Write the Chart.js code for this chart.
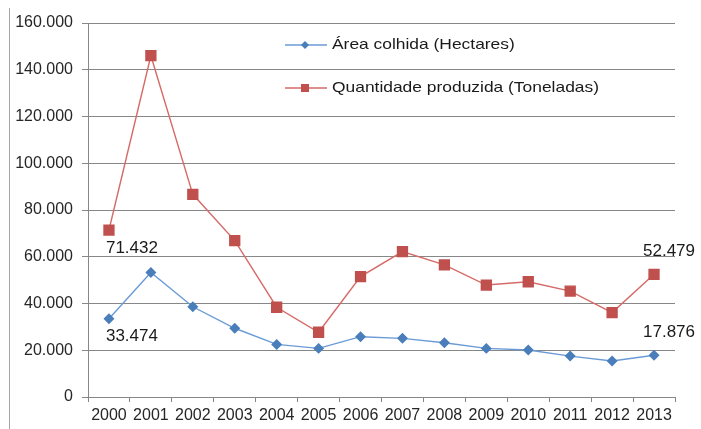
<!DOCTYPE html>
<html lang="pt">
<head>
<meta charset="UTF-8" />
<title>Área colhida e quantidade produzida</title>
<style>
  body { margin: 0; background: #fff; }
</style>
</head>
<body>
<canvas id="myChart" width="701" height="429"></canvas>

<script src="https://cdn.jsdelivr.net/npm/chart.js"></script>
<script>
// dados
const anos = ['2000', '2001', '2002', '2003', '2004', '2005', '2006',
              '2007', '2008', '2009', '2010', '2011', '2012', '2013'];
const areaColhida = [33474, 53300, 38600, 29400, 22500, 20800, 25800,
                     25100, 23200, 20800, 20100, 17500, 15400, 17876];
const qtdProduzida = [71432, 146000, 86700, 66900, 38400, 27700, 51500,
                      62200, 56500, 47900, 49300, 45300, 36100, 52479];
const yTicks = [0, 20000, 40000, 60000, 80000, 100000, 120000, 140000, 160000];

const FONT = '"Liberation Sans", Arial, sans-serif';
const AZUL = '#4a7ebb';
const VERMELHO = '#c0504d';
const GRADE = '#878787';

function fmt(v) {
  return String(v).replace(/\B(?=(\d{3})+(?!\d))/g, '.');
}

// borda esquerda do quadro
const frame = {
  id: 'frame',
  beforeDraw(chart) {
    const ctx = chart.ctx;
    ctx.save();
    ctx.strokeStyle = '#a6a6a6';
    ctx.lineWidth = 1;
    ctx.beginPath();
    ctx.moveTo(9.5, 8);
    ctx.lineTo(9.5, 429);
    ctx.stroke();
    ctx.restore();
  }
};

// legenda desenhada dentro da área do gráfico
const legenda = {
  id: 'legenda',
  afterDraw(chart) {
    const ctx = chart.ctx;
    ctx.save();
    chart.data.datasets.forEach((ds, i) => {
      const y = 45 + i * 43;
      ctx.strokeStyle = ds.borderColor;
      ctx.lineWidth = 1.5;
      ctx.beginPath();
      ctx.moveTo(285, y);
      ctx.lineTo(327, y);
      ctx.stroke();
      ctx.fillStyle = ds.pointBackgroundColor;
      if (i === 0) {
        ctx.beginPath();
        ctx.moveTo(305, y - 4);
        ctx.lineTo(309, y);
        ctx.lineTo(305, y + 4);
        ctx.lineTo(301, y);
        ctx.closePath();
        ctx.fill();
      } else {
        ctx.fillRect(301, y - 4, 8, 8);
      }
      ctx.fillStyle = '#1a1a1a';
      ctx.font = '15px ' + FONT;
      ctx.textBaseline = 'middle';
      ctx.textAlign = 'left';
      ctx.save();
      ctx.translate(332, y);
      ctx.scale(1.16, 1);
      ctx.fillText(ds.label, 0, 0);
      ctx.restore();
    });
    ctx.restore();
  }
};

// rótulos do primeiro e do último ponto
const rotulos = {
  id: 'rotulos',
  afterDatasetsDraw(chart) {
    const ctx = chart.ctx;
    ctx.save();
    ctx.font = '17px ' + FONT;
    ctx.fillStyle = '#1a1a1a';
    ctx.textBaseline = 'middle';
    ctx.textAlign = 'left';
    chart.data.datasets.forEach((ds, i) => {
      const pts = chart.getDatasetMeta(i).data;
      const last = pts.length - 1;
      ctx.fillText(fmt(ds.data[0]), pts[0].x - 3, pts[0].y + 18);
      ctx.fillText(fmt(ds.data[last]), pts[last].x - 11, pts[last].y - 23);
    });
    ctx.restore();
  }
};

const data = {
  labels: anos,
  datasets: [
    {
      label: 'Área colhida (Hectares)',
      data: areaColhida,
      borderColor: '#6a9bd6',
      backgroundColor: AZUL,
      pointBackgroundColor: AZUL,
      pointBorderColor: AZUL,
      pointStyle: 'rectRot',
      pointRadius: 4.5,
      borderWidth: 1.4,
      tension: 0
    },
    {
      label: 'Quantidade produzida (Toneladas)',
      data: qtdProduzida,
      borderColor: '#d56a67',
      backgroundColor: VERMELHO,
      pointBackgroundColor: VERMELHO,
      pointBorderColor: VERMELHO,
      pointStyle: 'rect',
      pointRadius: 7,
      borderWidth: 1.4,
      tension: 0
    }
  ]
};

const config = {
  type: 'line',
  data: data,
  options: {
    responsive: false,
    animation: false,
    layout: { padding: { left: 0, right: 26, top: 23, bottom: 0 } },
    plugins: {
      legend: { display: false },
      tooltip: { enabled: false }
    },
    scales: {
      x: {
        offset: true,
        grid: {
          offset: true,
          drawOnChartArea: false,
          drawTicks: true,
          tickLength: 5,
          color: GRADE
        },
        border: { color: GRADE, width: 1 },
        ticks: {
          color: '#262626',
          font: { family: FONT, size: 16 },
          padding: 4,
          maxRotation: 0,
          autoSkip: false
        },
        afterFit(scale) { scale.height = 32; }
      },
      y: {
        min: 0,
        max: 160000,
        afterBuildTicks(scale) {
          scale.ticks = yTicks.map(v => ({ value: v }));
        },
        grid: {
          color: GRADE,
          lineWidth: 1,
          tickLength: 6
        },
        border: { color: GRADE, width: 1 },
        ticks: {
          color: '#262626',
          font: { family: FONT, size: 16 },
          padding: 9,
          callback: v => fmt(v)
        },
        afterFit(scale) { scale.width = 88; }
      }
    }
  },
  plugins: [frame, rotulos, legenda]
};

const myChart = new Chart(document.getElementById('myChart'), config);
</script>
</body>
</html>
